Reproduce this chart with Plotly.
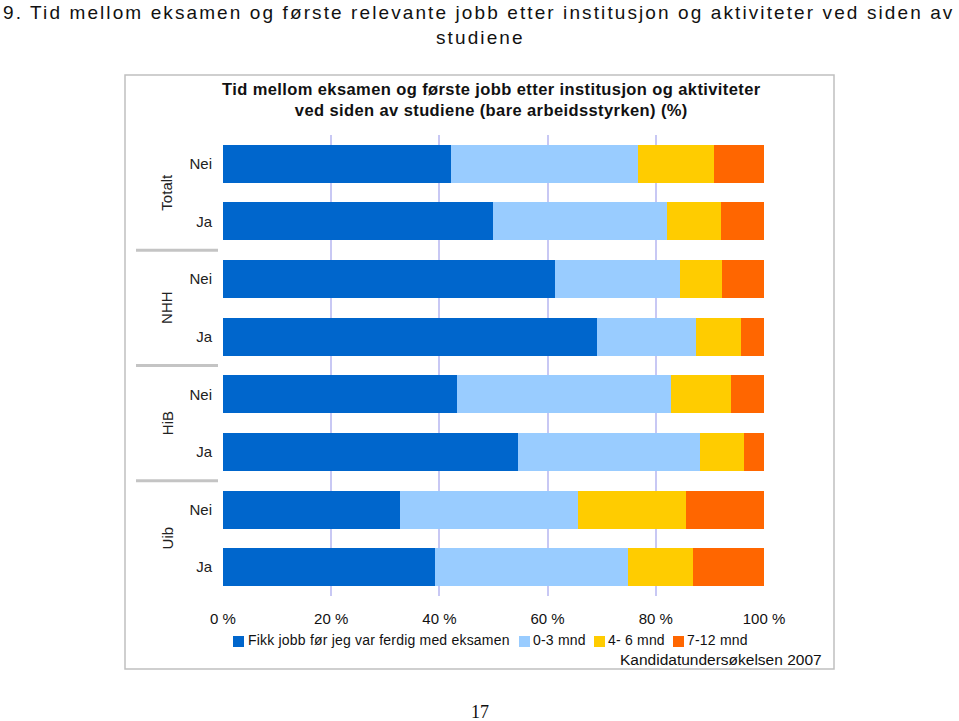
import plotly.graph_objects as go

# ---- data ----
groups = ["Totalt", "NHH", "HiB", "Uib"]
row_labels = ["Nei", "Ja", "Nei", "Ja", "Nei", "Ja", "Nei", "Ja"]
row_groups = ["Totalt", "Totalt", "NHH", "NHH", "HiB", "HiB", "Uib", "Uib"]
series_names = ["Fikk jobb før jeg var ferdig med eksamen", "0-3 mnd", "4- 6 mnd", "7-12 mnd"]
fikk_jobb = [42.1, 49.9, 61.3, 69.1, 43.2, 54.5, 32.7, 39.2]
mnd_0_3 = [34.6, 32.2, 23.2, 18.3, 39.6, 33.7, 32.9, 35.6]
mnd_4_6 = [14.0, 9.9, 7.7, 8.3, 11.1, 8.1, 20.0, 12.1]
mnd_7_12 = [9.3, 8.0, 7.8, 4.3, 6.1, 3.7, 14.4, 13.1]
x_ticks = [0, 20, 40, 60, 80, 100]
x_tick_labels = ["0 %", "20 %", "40 %", "60 %", "80 %", "100 %"]
colors = ["#0066CC", "#99CCFF", "#FFCC00", "#FF6600"]

W, H = 959, 721
L, R, T, B = 223, 195, 135, 125
pw, ph = W - L - R, H - T - B

def px(x):
    return (x - L) / pw

def py(y):
    return (H - B - y) / ph

FONT = "Liberation Sans, Arial, sans-serif"
TXT = "#111111"

fig = go.Figure()
ypos = list(range(len(row_labels)))
for name, vals, col in zip(series_names, [fikk_jobb, mnd_0_3, mnd_4_6, mnd_7_12], colors):
    fig.add_trace(go.Bar(
        y=ypos, x=vals, orientation="h", name=name, showlegend=False,
        marker=dict(color=col, line=dict(width=0)), width=0.66,
    ))

annotations = []
shapes = []

# group labels
for g in groups:
    idx = [i for i, rg in enumerate(row_groups) if rg == g]
    mid = sum(idx) / len(idx)
    annotations.append(dict(
        x=px(167), xref="paper", y=mid, yref="y", text=g, showarrow=False,
        textangle=-90, font=dict(family=FONT, size=15, color="#222222"),
        xanchor="center", yanchor="middle",
    ))

# group separators
for gi in range(1, len(groups)):
    idx = [i for i, rg in enumerate(row_groups) if rg == groups[gi]]
    ysep = min(idx) - 0.5
    shapes.append(dict(type="line", xref="paper", yref="y", x0=px(136), x1=px(218),
                       y0=ysep, y1=ysep, line=dict(color="#C4C4C4", width=3)))

# chart frame
shapes.append(dict(type="rect", xref="paper", yref="paper", x0=px(125), x1=px(834),
                   y0=py(669), y1=py(75), line=dict(color="#C0C0C0", width=1.5),
                   fillcolor="rgba(0,0,0,0)", layer="below"))

# custom legend (positions of each entry in pixels)
legend_sq_x = [233, 519, 594, 673]
legend_txt_x = [246, 531, 606, 685]
for name, col, sx, tx in zip(series_names, colors, legend_sq_x, legend_txt_x):
    shapes.append(dict(type="rect", xref="paper", yref="paper", x0=px(sx), x1=px(sx + 11),
                       y0=py(647), y1=py(636), fillcolor=col, line=dict(width=0)))
    annotations.append(dict(
        x=px(tx), xref="paper", y=py(640), yref="paper", xanchor="left", yanchor="middle",
        text=f'<span style="letter-spacing:0.2px">{name}</span>', showarrow=False,
        font=dict(family=FONT, size=14, color=TXT),
    ))

# page title (two lines: first fills the width, second centred)
annotations.append(dict(
    x=px(1), xref="paper", y=py(12), yref="paper", yanchor="middle", xanchor="left",
    text='<span style="letter-spacing:2.1px">9. Tid mellom eksamen og første relevante jobb etter institusjon og aktiviteter ved siden av</span>',
    showarrow=False, align="left",
    font=dict(family=FONT, size=19, color=TXT),
))
annotations.append(dict(
    x=px(480), xref="paper", y=py(37), yref="paper", yanchor="middle", xanchor="center",
    text='<span style="letter-spacing:2.1px">studiene</span>',
    showarrow=False, align="center",
    font=dict(family=FONT, size=19, color=TXT),
))
# chart title
annotations.append(dict(
    x=px(491), xref="paper", y=py(78), yref="paper", yanchor="top", xanchor="center",
    text='<b><span style="letter-spacing:0.4px">Tid mellom eksamen og første jobb etter institusjon og aktiviteter</span><br><span style="letter-spacing:0.4px">ved siden av studiene (bare arbeidsstyrken) (%)</span></b>',
    showarrow=False, align="center",
    font=dict(family=FONT, size=16.5, color=TXT),
))
# source
annotations.append(dict(
    x=px(824), xref="paper", y=py(659), yref="paper", xanchor="right", yanchor="middle",
    text="Kandidatundersøkelsen 2007", showarrow=False,
    font=dict(family=FONT, size=15.5, color=TXT),
))
# page number
annotations.append(dict(
    x=px(480), xref="paper", y=py(712), yref="paper", xanchor="center", yanchor="middle",
    text="17", showarrow=False,
    font=dict(family="Liberation Serif, Times New Roman, serif", size=18, color=TXT),
))

fig.update_layout(
    width=W, height=H,
    margin=dict(l=L, r=R, t=T, b=B, pad=0, autoexpand=False),
    barmode="stack", bargap=0.34,
    plot_bgcolor="white", paper_bgcolor="white",
    showlegend=False,
    xaxis=dict(range=[0, 100], tickvals=x_ticks, ticktext=x_tick_labels,
               showgrid=True, gridcolor="#C8C8F4", gridwidth=2, zeroline=False,
               showline=False, ticks="", ticklabelstandoff=12,
               tickfont=dict(family=FONT, size=15, color=TXT)),
    yaxis=dict(range=[len(row_labels) - 0.5, -0.5], tickvals=ypos, ticktext=row_labels,
               showgrid=False, zeroline=False, showline=False, ticks="",
               ticklabelstandoff=10,
               tickfont=dict(family=FONT, size=15, color="#222222")),
    annotations=annotations, shapes=shapes,
    font=dict(family=FONT),
)

fig.write_html("out.html", config={"displayModeBar": False},
               post_script="document.body.style.margin='0';")
